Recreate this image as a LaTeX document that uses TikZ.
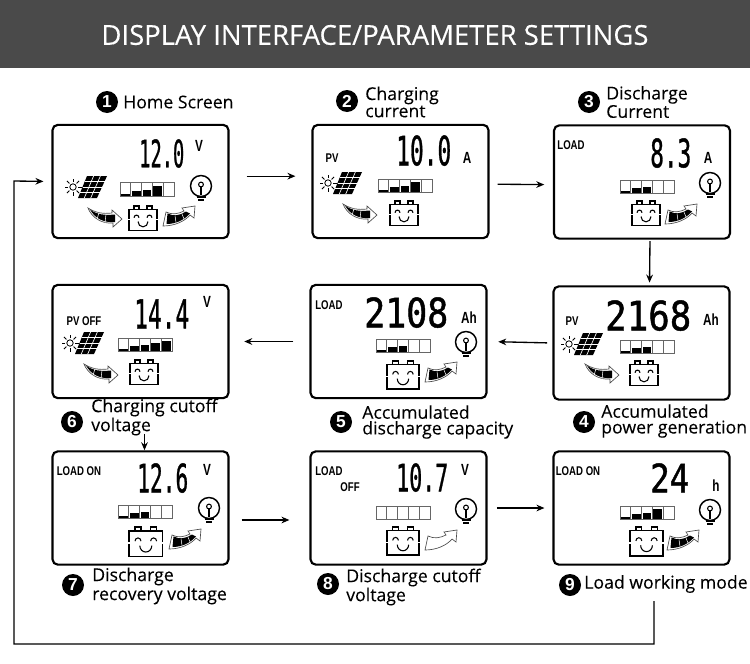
\documentclass[tikz,border=0pt]{standalone}
\usepackage{graphicx}
\usepackage{fontspec}
\usetikzlibrary{arrows.meta}
\setmainfont{Open Sans}
\newfontfamily\digfont[FakeBold=1.2]{DejaVu Sans Mono}
\newfontfamily\lcdfont{Liberation Sans}
\newfontfamily\titlefont[FakeBold=0.25]{Open Sans}
\newfontfamily\capfont[FakeBold=0.1]{Open Sans}
\definecolor{band}{HTML}{4A4A4A}
\tikzset{
  x=0.75pt,y=-0.75pt,
  panel/.style={draw=black,line width=1.6pt,rounded corners=4pt,fill=white,minimum width=132pt,minimum height=85pt,inner sep=0pt},
  conn/.style={draw=black,line width=1pt,-{Stealth[length=6pt,width=5pt]}},
  badge/.style={circle,fill=black,text=white,minimum size=16.5pt,inner sep=0pt,font=\fontsize{13}{13}\selectfont\lcdfont\bfseries},
  captext/.style={anchor=west,inner sep=0pt,align=left,font=\fontsize{13.25}{11.8}\selectfont\capfont},
  lcdtxt/.style={inner sep=0pt,font=\fontsize{9.5}{10}\selectfont\lcdfont\bfseries},
  unit/.style={inner sep=0pt,font=\fontsize{11}{11}\selectfont\lcdfont\bfseries},
}
\newcommand{\lcdl}[1]{\scalebox{.76}[1]{#1}}
\newcommand{\lcdu}[1]{\scalebox{.8}[1.1]{#1}}
\newcommand{\lcdnum}[6]{% name,x,y,w,h,text
  \node[anchor=north west,inner sep=0pt] (#1) at (#2,#3) {\resizebox{\dimexpr #4pt*3/4\relax}{\dimexpr #5pt*3/4\relax}{\digfont #6}};}
\newcommand{\solarsun}[2]{%
  \begin{scope}[shift={(#1,#2)}]
    \draw[line width=.6pt] (0,0) circle[radius=3.2];
    \foreach \a in {0,45,...,315}{\draw[line width=.6pt] (\a:5) -- (\a:8.5);}
    \fill[black] (14,-11) -- (34,-11) -- (24,11) -- (5,11) -- cycle;
    \foreach \t in {.25,.5,.75}{\draw[white,line width=.5pt] (14-9*\t,-11+22*\t) -- (34-10*\t,-11+22*\t);}
    \foreach \t in {.33,.67}{\draw[white,line width=.5pt] (14+20*\t,-11) -- (5+19*\t,11);}
  \end{scope}}
\newcommand{\levelbar}[3]{% x,y, heights
  \begin{scope}[shift={(#1,#2)}]
    \foreach \h [count=\i from 0] in {#3}{
      \draw[black!60,line width=.5pt] (\i*10.8,0) rectangle ++(10.8,13.5);
      \ifdim\h pt>0pt \fill[black] (\i*10.8+1,13) rectangle ++(8.8,-\h); \fi
    }
  \end{scope}}
\newcommand{\bulb}[2]{%
  \begin{scope}[shift={(#1,#2)}]
    \draw[line width=1.1pt] (0,0) circle[radius=10.5];
    \draw[line width=.8pt] (0,-1.5) circle[radius=2.4];
    \draw[line width=.8pt] (0,.9) -- (0,9);
    \fill[white] (-4,9.5) rectangle (4,11);
    \draw[line width=1pt] (-4.5,11) -- (4.5,11);
    \draw[line width=1.3pt] (-3,14) -- (3,14);
  \end{scope}}
\newcommand{\battery}[3]{% x,y,scale
  \begin{scope}[shift={(#1,#2)},xscale=#3,yscale=1.07*#3]
    \draw[line width=.9pt] (5,3) -- (5,0) -- (10,0) -- (10,3) (18,3) -- (18,0) -- (23,0) -- (23,3);
    \draw[line width=1pt] (0,3) rectangle (28,23);
    \fill[white] (-1,12) rectangle (1,13.5);
    \fill[white] (27,12) rectangle (29,13.5);
    \draw[line width=.8pt] (5,11) arc[start angle=180,end angle=360,radius=2.5];
    \draw[line width=.8pt] (18,11) arc[start angle=180,end angle=360,radius=2.5];
    \draw[line width=.8pt] (9,14.5) arc[start angle=180,end angle=0,radius=5];
  \end{scope}}
\newcommand{\arrowin}[2]{%
  \begin{scope}[shift={(#1,#2)}]
    \draw[black!70,fill=white,line width=.5pt] (0,1) .. controls (8,6) and (15,7) .. (24,6) -- (24,3) -- (34,12) -- (25,20) -- (25,16) .. controls (14,17) and (4,11) .. (0,1) -- cycle;
    \fill[black] (2,2.5) .. controls (9,7.5) and (16,8.5) .. (27,7.5) -- (27,15) .. controls (16,16) and (7,11.5) .. (2,2.5) -- cycle;
    \draw[white,line width=.4pt] (11,5.5) -- (9,12.5) (18,7) -- (17,16);
  \end{scope}}
\newcommand{\arrowout}[3]{%
  \begin{scope}[shift={(#1,#2)}]
    \draw[black!70,fill=white,line width=.5pt] (0,20) -- (3,6) .. controls (9,9) and (15,8) .. (21,5) -- (19,2) -- (32,0) -- (31,12) -- (27,9) .. controls (22,15) and (12,20) .. (0,20) -- cycle;
    \fill[#3] (3.5,18) -- (4.5,7.5) .. controls (11,10.5) and (17,9.5) .. (23,5.5) -- (27,7.5) .. controls (21,14) and (13,18) .. (3.5,18) -- cycle;
    \draw[white,line width=.4pt] (12,9.5) -- (13,16.5) (19,8) -- (21,13);
  \end{scope}}
\begin{document}
\begin{tikzpicture}
\useasboundingbox (0,0) rectangle (750,664);
\fill[white] (0,0) rectangle (750,664);
\fill[band] (0,0) rectangle (750,68);
\node[text=white,inner sep=0pt,font=\fontsize{20.6}{21}\selectfont\titlefont] (title) at (375,35) {DISPLAY INTERFACE/PARAMETER SETTINGS};

% panels
\node[panel] (p1) at (140.5,181.5) {};
\node[panel] (p2) at (400.5,181.5) {};
\node[panel] (p3) at (642,182) {};
\node[panel] (p4) at (641.5,343) {};
\node[panel] (p5) at (398.5,341.5) {};
\node[panel] (p6) at (140.5,341.5) {};
\node[panel] (p7) at (140.5,508) {};
\node[panel] (p8) at (398.5,508) {};
\node[panel] (p9) at (641.5,508) {};

% panel 1
\lcdnum{n1}{139}{139}{45}{28}{12.0}
\node[unit] (u1) at (199,146) {\lcdu{V}};
\solarsun{73}{187}
\levelbar{120}{182.5}{2,5,6,10,0}
\bulb{201}{186}
\battery{129}{206}{1}
\arrowin{88}{207}
\arrowout{163}{206}{black}

% panel 2
\node[lcdtxt] (l2) at (332,158) {\lcdl{PV}};
\lcdnum{n2}{396}{135}{55}{30}{10.0}
\node[unit] (u2) at (467,158) {\lcdu{A}};
\solarsun{328}{183}
\levelbar{378}{179}{2,5,6,10,0}
\battery{390}{201}{1}
\arrowin{343}{203}

% panel 3
\node[lcdtxt] (l3) at (571,145) {\lcdl{LOAD}};
\lcdnum{n3}{650}{138}{41}{29}{8.3}
\node[unit] (u3) at (708,158) {\lcdu{A}};
\levelbar{620}{180}{2,5,6,0,0}
\bulb{710}{183}
\battery{632}{201}{1}
\arrowout{665}{204}{black}

% panel 4
\node[lcdtxt] (l4) at (572,321) {\lcdl{PV}};
\lcdnum{n4}{605}{300}{86}{30}{2168}
\node[unit] (u4) at (711,320) {\lcdu{Ah}};
\solarsun{569}{344}
\levelbar{620}{340}{2,5,6,0,0}
\battery{630}{361}{1}
\arrowin{585}{363}

% panel 5
\node[lcdtxt] (l5) at (329,305) {\lcdl{LOAD}};
\lcdnum{n5}{364}{297}{84}{30}{2108}
\node[unit] (u5) at (469,318) {\lcdu{Ah}};
\levelbar{376}{339}{2,5,6,0,0}
\bulb{466}{342}
\battery{387}{361}{1.14}
\arrowout{425}{362}{black}

% panel 6
\node[lcdtxt] (l6) at (84,321) {\lcdl{PV OFF}};
\lcdnum{n6}{134}{299}{55}{29}{14.4}
\node[unit] (u6) at (207,302) {\lcdu{V}};
\solarsun{70}{343}
\levelbar{118}{338}{2,5,6,8,10}
\battery{130}{360}{1}
\arrowin{84}{363}

% panel 7
\node[lcdtxt] (l7) at (79,471) {\lcdl{LOAD ON}};
\lcdnum{n7}{137}{463}{51}{29}{12.6}
\node[unit] (u7) at (207,470) {\lcdu{V}};
\levelbar{118}{505}{2,5,6,0,0}
\bulb{209}{508}
\battery{129}{527}{1.2}
\arrowout{169}{529}{black}

% panel 8
\node[lcdtxt] (l8a) at (329,471) {\lcdl{LOAD}};
\node[lcdtxt] (l8b) at (350,487) {\lcdl{OFF}};
\lcdnum{n8}{396}{463}{52}{28}{10.7}
\node[unit] (u8) at (465,470) {\lcdu{V}};
\levelbar{376}{506}{0,0,0,0,0}
\bulb{466}{509}
\battery{387}{527}{1.14}
\arrowout{425}{530}{white}

% panel 9
\node[lcdtxt] (l9) at (578,471) {\lcdl{LOAD ON}};
\lcdnum{n9}{650}{463}{39}{29}{24}
\node[unit] (u9) at (716,486) {\lcdu{h}};
\levelbar{620}{506}{2,5,6,10,0}
\bulb{710}{510}
\battery{630}{527}{1.18}
\arrowout{667}{530}{black}

% captions
\node[badge] (b1) at (107,102) {1};
\node[captext] (c1) at (123,102) {Home Screen};
\node[badge] (b2) at (347,101) {2};
\node[captext] (c2) at (365,102) {Charging\\current};
\node[badge] (b3) at (589,102) {3};
\node[captext] (c3) at (606,102) {Discharge\\Current};
\node[badge] (b4) at (584,422) {4};
\node[captext] (c4) at (601,421) {Accumulated\\power generation};
\node[badge] (b5) at (341,422) {5};
\node[captext] (c5) at (362,422) {Accumulated\\discharge capacity};
\node[badge] (b6) at (72,422) {6};
\node[captext] (c6) at (91,417) {Charging cutoff\\voltage};
\node[badge] (b7) at (73,585) {7};
\node[captext] (c7) at (92,586) {Discharge\\recovery voltage};
\node[badge] (b8) at (328,584) {8};
\node[captext] (c8) at (346,587) {Discharge cutoff\\voltage};
\node[badge] (b9) at (570,585) {9};
\node[captext] (c9) at (584,584) {Load working mode};

% connectors
\draw[conn,shorten <=12.75pt,shorten >=12pt] ([yshift=4pt]p1.east) -- ([yshift=4pt]p2.west);
\draw[conn,shorten <=6pt,shorten >=6.5pt] ([yshift=-2pt]p2.east) -- ([yshift=-2pt]p3.west);
\draw[conn,shorten <=1pt,shorten >=2pt] ([xshift=6pt]p3.south) -- ([xshift=6pt]p4.north);
\draw[conn,shorten <=4pt,shorten >=8pt] (p4.west) -- (p5.east);
\draw[conn,shorten <=12pt,shorten >=11pt] (p5.west) -- (p6.east);
\draw[conn,shorten <=26pt,shorten >=0pt] ([xshift=3pt]p6.south) -- ([xshift=3pt]p7.north);
\draw[conn,shorten <=9pt,shorten >=15pt] ([yshift=-9pt]p7.east) -- ([yshift=-9pt]p8.west);
\draw[conn,shorten <=7pt,shorten >=6pt] (p8.east) -- (p9.west);
\coordinate (loopstart) at (654,601);
\coordinate (loopa) at (654,644);
\coordinate (loopb) at (14,644);
\coordinate (loopc) at (14,181);
\draw[conn,shorten >=6pt] (loopstart) -- (loopa) -- (loopb) -- (loopc) -- (p1.west);
\end{tikzpicture}
\end{document}
